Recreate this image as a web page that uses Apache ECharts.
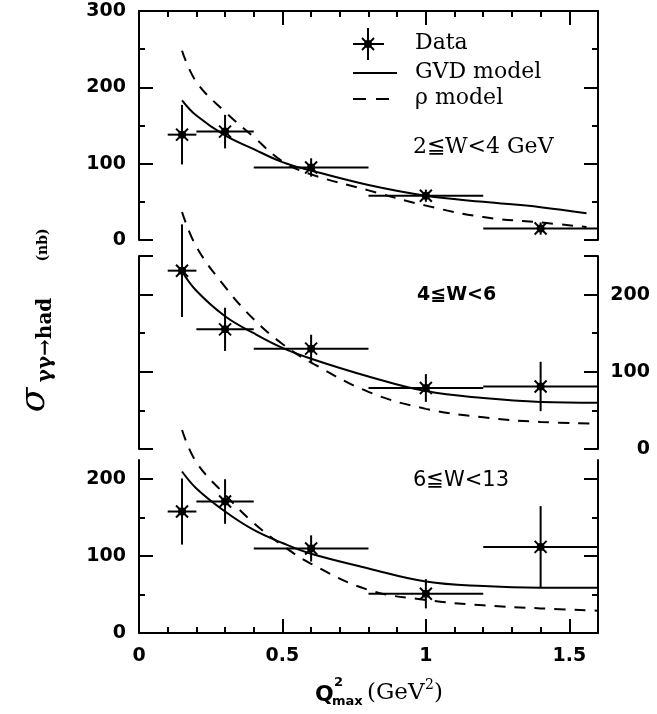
<!DOCTYPE html>
<html>
<head>
<meta charset="utf-8">
<script src="https://cdn.jsdelivr.net/npm/echarts@6/dist/echarts.min.js"></script>
<style>
html,body{margin:0;padding:0;background:#fff;}
#chart{width:657px;height:714px;}
</style>
</head>
<body>
<div id="chart"></div>
<script>
// ---------- data ----------
const xTickLabels = [0, 0.5, 1, 1.5];
const xCenters = [0.15, 0.3, 0.6, 1.0, 1.4];
const xLow     = [0.1, 0.2, 0.4, 0.8, 1.2];
const xHigh    = [0.2, 0.4, 0.8, 1.2, 1.6];

const data1 = [138, 142, 95, 58, 15];
const err1  = [39, 22, 12, 8, 8];
const data2 = [231, 155, 130, 79, 81];
const err2  = [60, 28, 18, 18, 32];
const data3 = [158, 171, 110, 51, 112];
const err3  = [43, 29, 17, 19, 53];

const modelX1 = [0.15, 0.2, 0.3, 0.4, 0.5, 0.6, 0.8, 1.0, 1.2, 1.4, 1.56];
const gvd1    = [183, 163, 137, 119, 102, 91, 72, 58, 50, 43, 35];
const rho1    = [248, 207, 168, 135, 103, 86, 65, 45, 30, 23, 17];

const modelX = [0.15, 0.2, 0.3, 0.4, 0.5, 0.6, 0.8, 1.0, 1.2, 1.4, 1.6];
const gvd2   = [230, 205, 172, 150, 131, 117, 94, 75, 66, 61, 60];
const rho2   = [307, 262, 210, 168, 136, 112, 74, 52, 41, 35, 33];
const gvd3   = [210, 188, 158, 134, 117, 103, 84, 67, 61, 59, 59];
const rho3   = [264, 222, 180, 143, 114, 90, 56, 43, 36, 32, 29];

const yMax = [300, 250, 225];
const yLabelsLeft = [[0, 100, 200, 300], [], [0, 100, 200]];
const yLabelsRight = [[], [0, 100, 200], []];
const panelTitles = ['2\u2266W<4 GeV', '4\u2266W<6', '6\u2266W<13'];

// ---------- layout ----------
const grids = [
  {left: 139, right: 59, top: 11, height: 229},
  {left: 139, right: 59, top: 256, height: 193},
  {left: 139, right: 59, top: 460, height: 173}
];
const labelFont = {fontFamily: "'DejaVu Sans', sans-serif", fontWeight: 'bold', fontSize: 19, color: '#000'};
const lineSt = {color: '#000', width: 2};

function range(a, b, step) { const r = []; for (let v = a; v <= b + 1e-9; v += step) r.push(Math.round(v * 1000) / 1000); return r; }

const xAxes = [];
function xAx(g, opts) {
  return Object.assign({
    type: 'value', gridIndex: g, min: 0, max: 1.6, show: true,
    axisLine: {show: false, onZero: false, lineStyle: lineSt},
    axisTick: {show: false}, axisLabel: {show: false}, splitLine: {show: false}
  }, opts);
}
// 0: grid0 main
xAxes.push(xAx(0, {position: 'bottom', show: false, interval: 0.1}));
// 1: grid0 top minor
xAxes.push(xAx(0, {position: 'top', interval: 0.1,
  axisLine: {show: true, onZero: false, lineStyle: lineSt},
  axisTick: {show: true, inside: true, length: 6, lineStyle: lineSt, customValues: range(0.1, 1.5, 0.1)}}));
// 2: grid0 top major
xAxes.push(xAx(0, {position: 'top', interval: 0.5,
  axisTick: {show: true, inside: true, length: 14, lineStyle: lineSt, customValues: [0.5, 1, 1.5]}}));
// 3: grid1 main
xAxes.push(xAx(1, {position: 'bottom', show: false, interval: 0.1}));
// 4: grid2 bottom minor (main)
xAxes.push(xAx(2, {position: 'bottom', interval: 0.1,
  axisLine: {show: true, onZero: false, lineStyle: lineSt},
  axisTick: {show: true, inside: true, length: 6, lineStyle: lineSt, customValues: range(0.1, 1.5, 0.1)}}));
// 5: grid2 bottom major + labels
xAxes.push(xAx(2, {position: 'bottom', interval: 0.5,
  axisTick: {show: true, inside: true, length: 14, lineStyle: lineSt, customValues: [0.5, 1, 1.5]},
  axisLabel: Object.assign({show: true, margin: 14, customValues: xTickLabels,
    formatter: v => String(v)}, labelFont)}));

const yAxes = [];
for (let g = 0; g < 3; g++) {
  const M = yMax[g];
  const minors = range(50, M, 100).filter(v => v < M);
  const majors = range(0, M, 100).concat(g === 1 ? [250] : []);
  const base = {type: 'value', gridIndex: g, min: 0, max: M, splitLine: {show: false}};
  yAxes.push(Object.assign({}, base, {position: 'left', interval: 50,
    axisLine: {show: true, onZero: false, lineStyle: lineSt},
    axisTick: {show: true, inside: true, length: 6, lineStyle: lineSt, customValues: minors},
    axisLabel: {show: false}}));
  yAxes.push(Object.assign({}, base, {position: 'left', interval: 100,
    axisLine: {show: false, onZero: false},
    axisTick: {show: true, inside: true, length: 14, lineStyle: lineSt, customValues: majors},
    axisLabel: Object.assign({show: yLabelsLeft[g].length > 0, margin: 13, customValues: yLabelsLeft[g]}, labelFont)}));
  yAxes.push(Object.assign({}, base, {position: 'right', interval: 50,
    axisLine: {show: true, onZero: false, lineStyle: lineSt},
    axisTick: {show: true, inside: true, length: 6, lineStyle: lineSt, customValues: minors},
    axisLabel: {show: false}}));
  yAxes.push(Object.assign({}, base, {position: 'right', interval: 100,
    axisLine: {show: false, onZero: false},
    axisTick: {show: true, inside: true, length: 14, lineStyle: lineSt, customValues: majors},
    axisLabel: Object.assign({show: yLabelsRight[g].length > 0, margin: 52, align: 'right', customValues: yLabelsRight[g]}, labelFont)}));
}

function errItems(ys, es) {
  return xCenters.map((x, i) => [x, ys[i], xLow[i], xHigh[i], ys[i] - es[i], ys[i] + es[i]]);
}
function renderErr(params, api) {
  const x = api.value(0), y = api.value(1);
  const c = api.coord([x, y]);
  const pL = api.coord([api.value(2), y]), pR = api.coord([api.value(3), y]);
  const pB = api.coord([x, api.value(4)]), pT = api.coord([x, api.value(5)]);
  const s = 6;
  const st = {stroke: '#000', lineWidth: 2};
  return {type: 'group', children: [
    {type: 'line', shape: {x1: pL[0], y1: c[1], x2: pR[0], y2: c[1]}, style: st},
    {type: 'line', shape: {x1: c[0], y1: pT[1], x2: c[0], y2: pB[1]}, style: st},
    {type: 'line', shape: {x1: c[0] - s, y1: c[1] - s, x2: c[0] + s, y2: c[1] + s}, style: st},
    {type: 'line', shape: {x1: c[0] - s, y1: c[1] + s, x2: c[0] + s, y2: c[1] - s}, style: st},
    {type: 'circle', shape: {cx: c[0], cy: c[1], r: 4}, style: {fill: '#000'}}
  ]};
}
function zip(xs, ys) { return xs.map((x, i) => [x, ys[i]]); }

const dataSets = [[data1, err1], [data2, err2], [data3, err3]];
const models = [[modelX1, gvd1, rho1], [modelX, gvd2, rho2], [modelX, gvd3, rho3]];
const xMain = [0, 3, 4];
const series = [];
for (let g = 0; g < 3; g++) {
  const xi = xMain[g], yi = 4 * g;
  series.push({type: 'line', name: 'GVD model', xAxisIndex: xi, yAxisIndex: yi, clip: false,
    data: zip(models[g][0], models[g][1]), smooth: 0.4, symbol: 'none',
    lineStyle: {color: '#000', width: 2}});
  series.push({type: 'line', name: '\u03c1 model', xAxisIndex: xi, yAxisIndex: yi, clip: false,
    data: zip(models[g][0], models[g][2]), smooth: 0.4, symbol: 'none',
    lineStyle: {color: '#000', width: 2, type: [11, 9]}});
  series.push({type: 'custom', name: 'Data', xAxisIndex: xi, yAxisIndex: yi, clip: false,
    data: errItems(dataSets[g][0], dataSets[g][1]),
    encode: {x: [0, 2, 3], y: [1, 4, 5]}, renderItem: renderErr});
}

const serif = "'DejaVu Serif', serif";
const gst = {stroke: '#000', lineWidth: 2};
const graphic = [
  // legend
  {type: 'line', shape: {x1: 368, y1: 28, x2: 368, y2: 60}, style: gst},
  {type: 'line', shape: {x1: 353, y1: 44, x2: 384, y2: 44}, style: gst},
  {type: 'line', shape: {x1: 362, y1: 38, x2: 374, y2: 50}, style: gst},
  {type: 'line', shape: {x1: 362, y1: 50, x2: 374, y2: 38}, style: gst},
  {type: 'circle', shape: {cx: 368, cy: 44, r: 4}, style: {fill: '#000'}},
  {type: 'line', shape: {x1: 353, y1: 73, x2: 397, y2: 73}, style: gst},
  {type: 'line', shape: {x1: 353, y1: 99, x2: 394, y2: 99}, style: {stroke: '#000', lineWidth: 2, lineDash: [13, 10]}},
  {type: 'text', left: 415, top: 32, style: {text: 'Data', font: "22px " + serif, fill: '#000'}},
  {type: 'text', left: 415, top: 61, style: {text: 'GVD model', font: "22px " + serif, fill: '#000'}},
  {type: 'text', left: 415, top: 87, style: {text: '\u03c1 model', font: "22px " + serif, fill: '#000'}},
  // panel titles
  {type: 'text', left: 413, top: 136, style: {text: panelTitles[0], font: "22px " + serif, fill: '#000'}},
  {type: 'text', left: 417, top: 286, style: {text: panelTitles[1], font: "bold 19px 'DejaVu Sans', sans-serif", fill: '#000'}},
  {type: 'text', left: 413, top: 470, style: {text: panelTitles[2], font: "21px 'DejaVu Sans', sans-serif", fill: '#000'}},
  // y title (rotated)
  {type: 'text', x: 35, y: 400, rotation: Math.PI / 2,
    style: {text: '\u03c3', font: "italic 36px " + serif, fill: '#000', align: 'center', verticalAlign: 'middle'}},
  {type: 'text', x: 46, y: 340, rotation: Math.PI / 2,
    style: {text: '\u03b3\u03b3\u2192had', font: "bold 20px " + serif, fill: '#000', align: 'center', verticalAlign: 'middle'}},
  {type: 'text', x: 43, y: 245, rotation: Math.PI / 2,
    style: {text: '(nb)', font: "bold 14px " + serif, fill: '#000', align: 'center', verticalAlign: 'middle'}},
  // x title
  {type: 'text', left: 315, top: 684, style: {text: 'Q', font: "bold 22px 'DejaVu Sans', sans-serif", fill: '#000'}},
  {type: 'text', left: 334, top: 676, style: {text: '2', font: "bold 13px 'DejaVu Sans', sans-serif", fill: '#000'}},
  {type: 'text', left: 332, top: 695, style: {text: 'max', font: "bold 13px 'DejaVu Sans', sans-serif", fill: '#000'}},
  {type: 'text', left: 367, top: 682, style: {text: '(GeV', font: "23px " + serif, fill: '#000'}},
  {type: 'text', left: 425, top: 678, style: {text: '2', font: "14px " + serif, fill: '#000'}},
  {type: 'text', left: 434, top: 682, style: {text: ')', font: "23px " + serif, fill: '#000'}}
];

const chart = echarts.init(document.getElementById('chart'), null, {renderer: 'canvas'});
chart.setOption({
  animation: false,
  backgroundColor: '#fff',
  grid: grids,
  xAxis: xAxes,
  yAxis: yAxes,
  series: series,
  graphic: graphic
});
</script>
</body>
</html>
